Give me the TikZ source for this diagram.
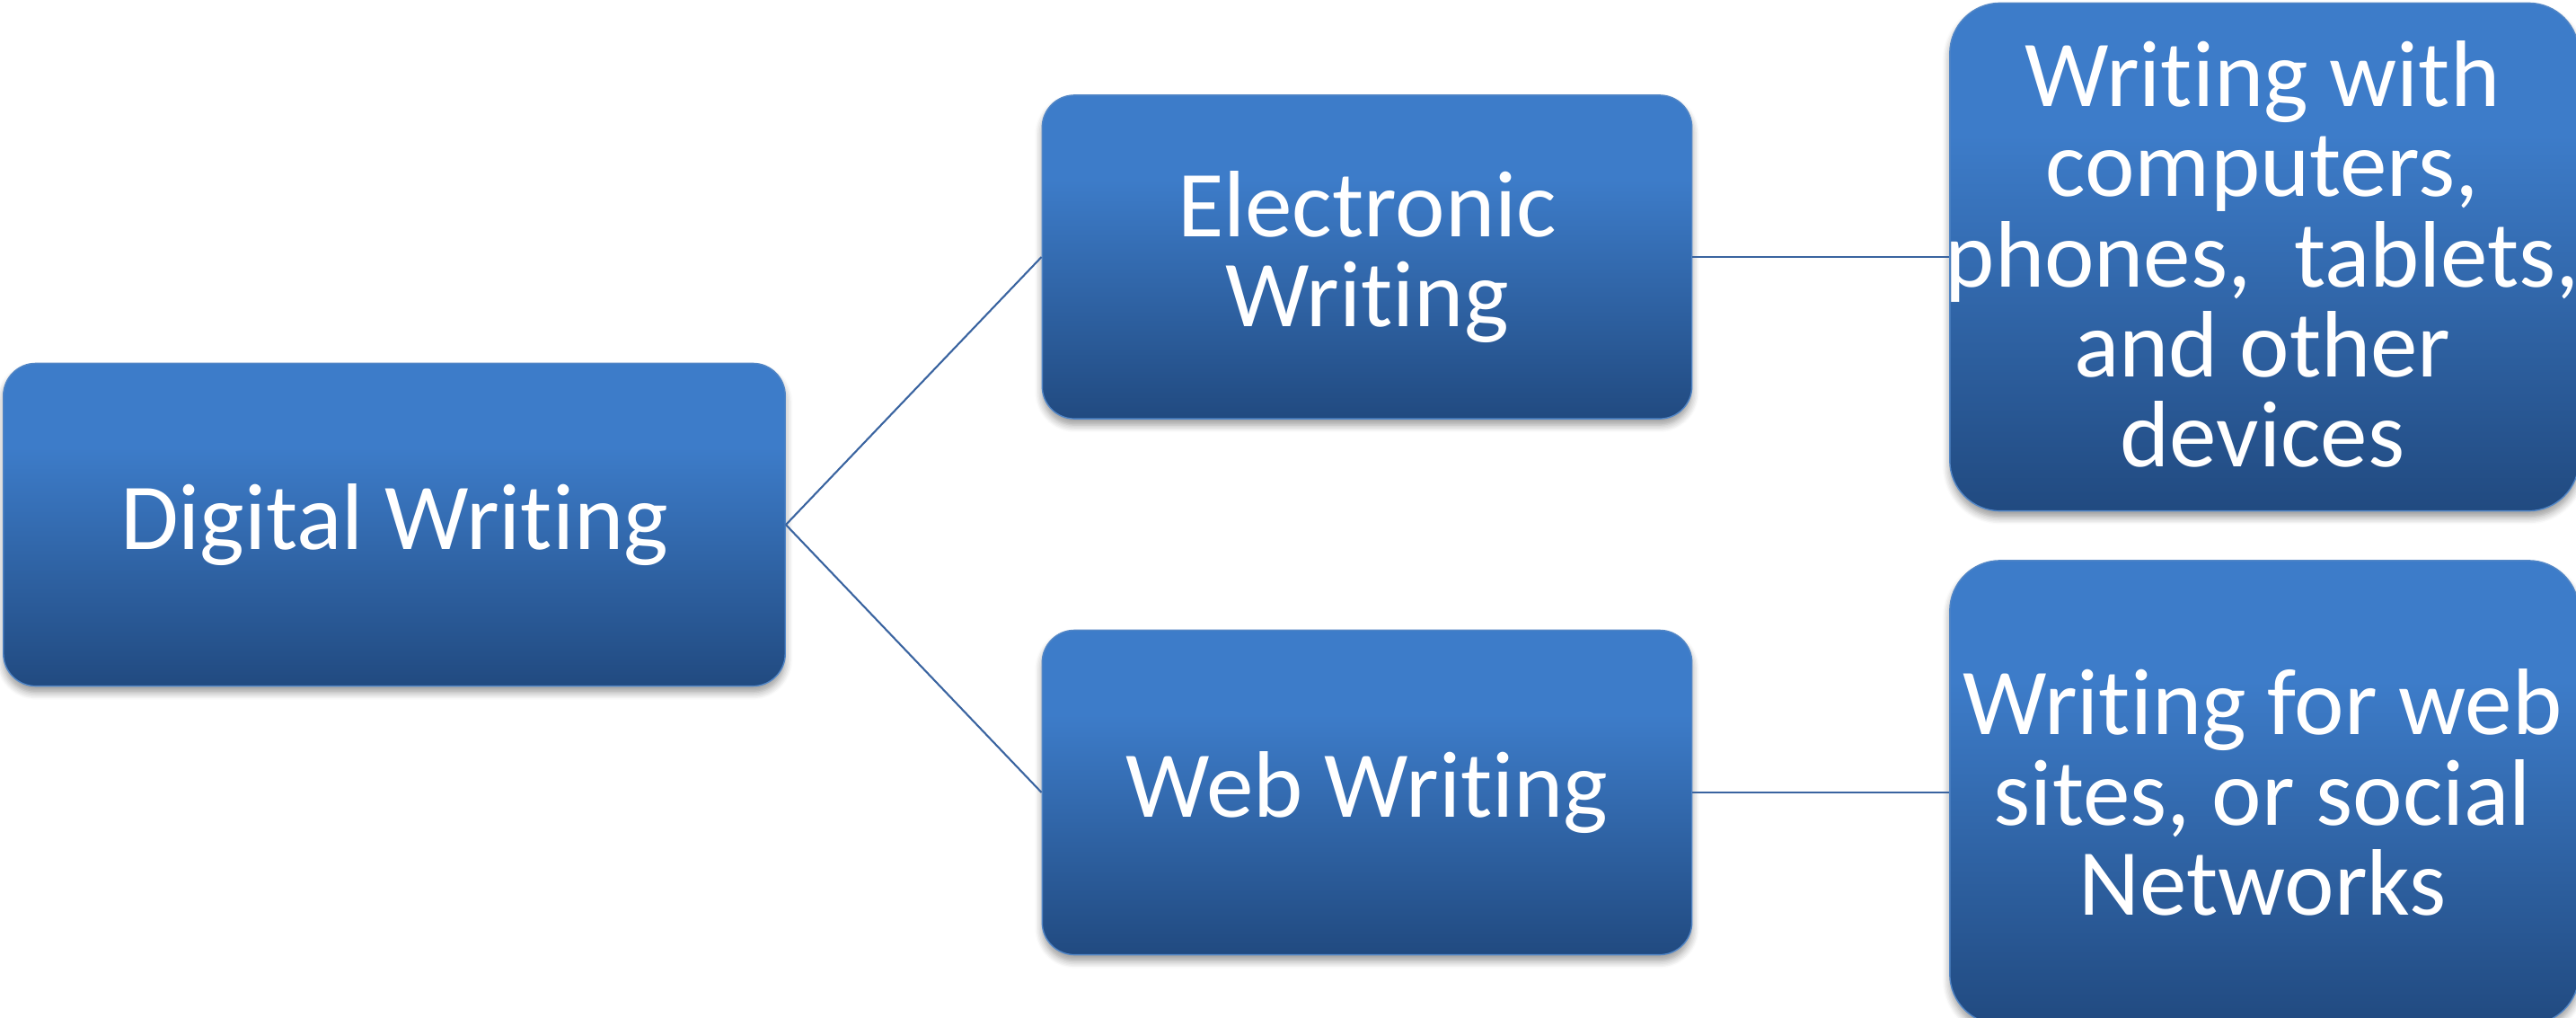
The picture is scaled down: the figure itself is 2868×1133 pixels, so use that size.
\documentclass[tikz,border=0pt]{standalone}
\usepackage{fontspec}
\setmainfont{Carlito}[Ligatures={NoCommon,NoContextual}]
\usetikzlibrary{shadows.blur}
\definecolor{boxlight}{HTML}{3D7CC9}
\definecolor{boxdark}{HTML}{214A80}
\definecolor{boxedge}{HTML}{5286C6}
\definecolor{linkcol}{HTML}{3A64A0}
\pgfdeclareverticalshading{boxshade}{100bp}{color(0bp)=(boxdark); color(25bp)=(boxdark); color(62bp)=(boxlight); color(75bp)=(boxlight); color(100bp)=(boxlight)}
\tikzset{
  sbox/.style={rectangle, shade, shading=boxshade, draw=boxedge, line width=0.4pt,
    text=white, align=center, inner sep=0pt,
    font=\fontsize{29.9}{28.5}\selectfont,
    blur shadow={shadow xshift=0pt, shadow yshift=-0.07cm, shadow blur steps=6, shadow opacity=40, shadow blur radius=0.08cm}},
  smallbox/.style={sbox, rounded corners=0.36cm},
  bigbox/.style={sbox, rounded corners=0.56cm},
  btext/.style={text=white, align=center, inner sep=0pt, font=\fontsize{29.9}{28.5}\selectfont},
  link/.style={draw=linkcol, line width=0.6pt}
}
\begin{document}
\begin{tikzpicture}[x=0.01cm, y=-0.01cm]
\useasboundingbox (0,0) rectangle (2868,1133);
\clip (0,0) rectangle (2868,1133);
\node[smallbox, minimum width=8.70cm, minimum height=3.59cm] (dig) at (439,584) {Digital Writing};
\node[smallbox, minimum width=7.23cm, minimum height=3.60cm] (ele) at (1522,286) {Electronic\\Writing};
\node[smallbox, minimum width=7.23cm, minimum height=3.61cm] (web) at (1522,882) {Web Writing};
\node[bigbox, minimum width=7.00cm, minimum height=5.65cm] (r1) at (2521,286) {};
\node[bigbox, minimum width=7.00cm, minimum height=5.16cm] (r2) at (2521,882) {};
\node[btext] (r1t) at (2519,283) {Writing with\\computers,\\phones,~ tablets,\\and other\\devices};
\node[btext] (r2t) at (2519,882) {Writing for web\\sites, or social\\Networks};
\draw[link] (dig.east) -- (ele.west);
\draw[link] (dig.east) -- (web.west);
\draw[link] (ele.east) -- (r1.west);
\draw[link] (web.east) -- (r2.west);
\end{tikzpicture}
\end{document}
